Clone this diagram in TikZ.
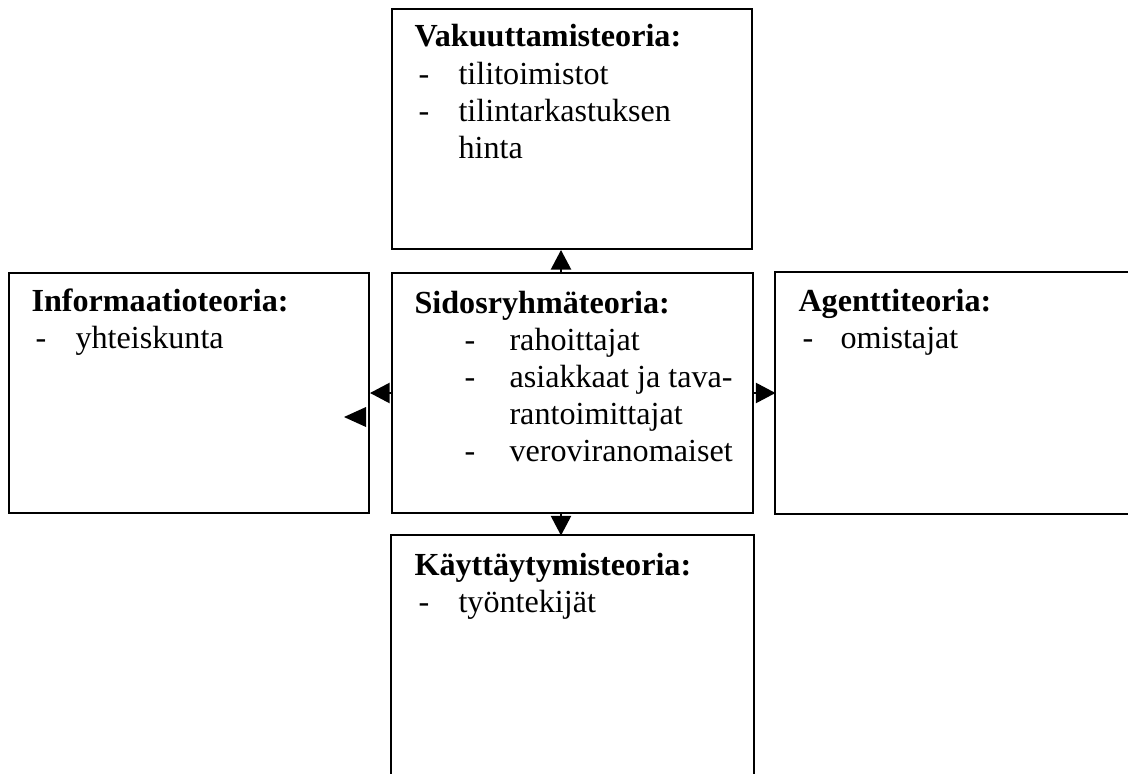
\documentclass[tikz,border=0pt]{standalone}
\usepackage{fontspec}
\setmainfont{Liberation Serif}
\usetikzlibrary{fit,arrows.meta}
\begin{document}
\begin{tikzpicture}[x=0.3733pt,y=-0.3733pt,
  boxframe/.style={draw=black,line width=0.75pt,inner sep=0pt},
  openframe/.style={draw=none,inner sep=0pt},
  edge/.style={line width=0.75pt},
  arr/.style={line width=0.75pt,-{Triangle[width=7.5pt,length=7.3pt]}},
  ttl/.style={anchor=base west,inner sep=0pt,font=\fontsize{12}{13.8}\selectfont\bfseries},
  itm/.style={anchor=base west,inner sep=0pt,font=\fontsize{12}{13.8}\selectfont}]
\useasboundingbox (0,0) rectangle (1128,774);
% boxes
\node[boxframe,fit={(392,9) (752,249)}] (t) {};
\node[boxframe,fit={(9,273) (369,513)}] (l) {};
\node[boxframe,fit={(392,273) (753,513)}] (c) {};
\node[openframe,fit={(776,273) (1128,513)}] (r) {};
\node[openframe,fit={(392,536) (753,774)}] (b) {};
\draw[edge] (r.north east) -- (r.north west) -- (r.south west) -- (r.south east);
\draw[edge] (b.south west) -- (b.north west) -- (b.north east) -- (b.south east);
% connectors
\coordinate (ax) at (561,0);
\draw[arr] (c.north -| ax) -- (t.south -| ax);
\draw[arr] (c.south -| ax) -- (b.north -| ax);
\draw[arr] (c.west) -- (l.east);
\draw[arr] (c.east) -- (r.west);
\coordinate (stray) at (344,417);
\fill (stray) -- ++(22,-10) -- ++(0,20) -- cycle;
% top box text
\node[ttl] (t0) at (414,47) {Vakuuttamisteoria:};
\node[itm] (t1d) at (418,84) {-};
\node[itm] (t1) at (458,84) {tilitoimistot};
\node[itm] (t2d) at (418,121) {-};
\node[itm] (t2) at (458,121) {tilintarkastuksen};
\node[itm] (t3) at (458,158) {hinta};
% left box text
\node[ttl] (l0) at (31,311) {Informaatioteoria:};
\node[itm] (l1d) at (35,348) {-};
\node[itm] (l1) at (75,348) {yhteiskunta};
% center box text
\node[ttl] (c0) at (414,313) {Sidosryhmäteoria:};
\node[itm] (c1d) at (464,350) {-};
\node[itm] (c1) at (509,350) {rahoittajat};
\node[itm] (c2d) at (464,387) {-};
\node[itm] (c2) at (509,387) {asiakkaat ja tava-};
\node[itm] (c3) at (509,424) {rantoimittajat};
\node[itm] (c4d) at (464,461) {-};
\node[itm] (c4) at (509,461) {veroviranomaiset};
% right box text
\node[ttl] (r0) at (798,311) {Agenttiteoria:};
\node[itm] (r1d) at (802,348) {-};
\node[itm] (r1) at (840,348) {omistajat};
% bottom box text
\node[ttl] (b0) at (414,575) {Käyttäytymisteoria:};
\node[itm] (b1d) at (418,612) {-};
\node[itm] (b1) at (458,612) {työntekijät};
\end{tikzpicture}
\end{document}
